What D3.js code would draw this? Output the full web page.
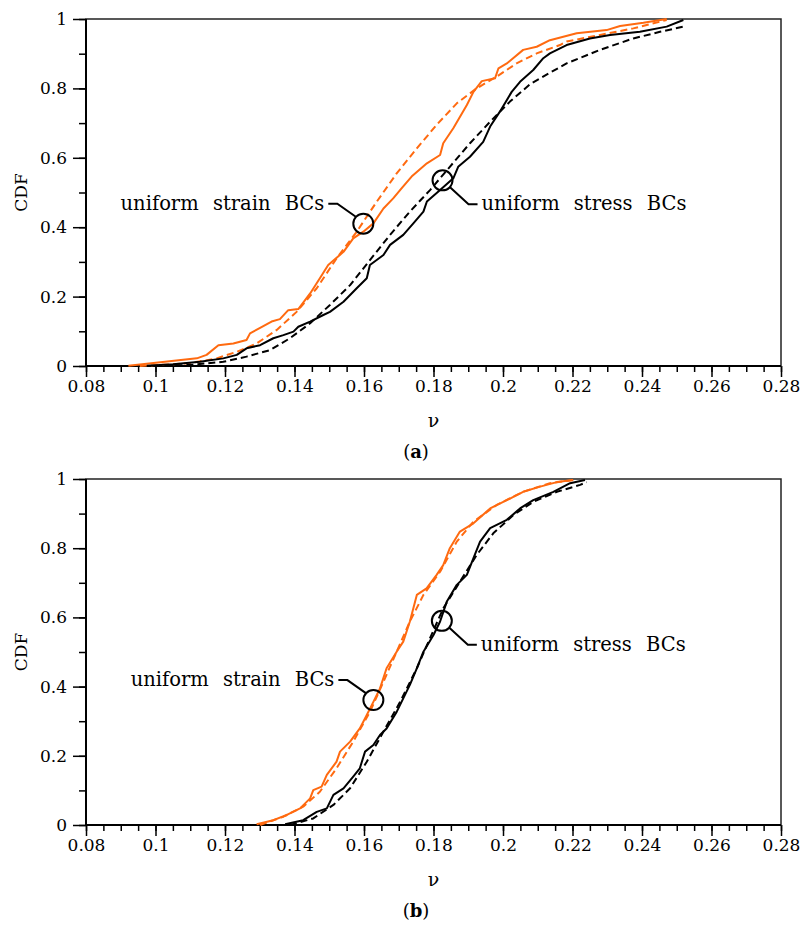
<!DOCTYPE html>
<html lang="en">
<head>
<meta charset="UTF-8">
<title>CDF of Poisson's ratio, uniform strain / stress BCs</title>
<script src="https://d3js.org/d3.v7.min.js"></script>
<style>
  body { margin: 0; background: #fff; }
  svg text { font-family: "DejaVu Serif", serif; fill: #000; }
</style>
</head>
<body>
<div id="chart"></div>
<script>

// tick labels
var xTicks = [0.08, 0.1, 0.12, 0.14, 0.16, 0.18, 0.2, 0.22, 0.24, 0.26, 0.28];
var yTicks = [0, 0.2, 0.4, 0.6, 0.8, 1];

// panel (a): [nu, CDF]
var strainEmpA = [[0.0922,0.001],[0.1119,0.022],[0.1147,0.032],[0.1181,0.060],[0.1224,0.065],[0.1262,0.075],
  [0.1272,0.094],[0.1301,0.110],[0.1334,0.128],[0.1358,0.135],[0.1382,0.161],[0.1411,0.164],[0.1445,0.209],
  [0.1473,0.253],[0.1497,0.291],[0.1541,0.329],[0.1569,0.368],[0.1598,0.387],[0.1627,0.411],[0.1656,0.454],
  [0.1684,0.483],[0.1708,0.512],[0.1737,0.546],[0.1781,0.584],[0.1819,0.608],[0.1828,0.642],[0.1857,0.685],
  [0.1896,0.752],[0.1915,0.790],[0.1939,0.821],[0.1977,0.829],[0.1987,0.858],[0.2011,0.872],[0.2058,0.911],
  [0.2097,0.920],[0.2135,0.939],[0.2212,0.959],[0.2298,0.968],[0.2337,0.980],[0.2404,0.989],[0.2471,1.0]];
var strainFitA = [[0.0955,0.0],[0.1099,0.008],[0.1176,0.022],[0.1234,0.041],[0.1291,0.065],[0.1349,0.104],
  [0.1406,0.156],[0.1464,0.224],[0.1521,0.310],[0.1579,0.387],[0.1637,0.474],[0.1694,0.555],[0.1752,0.627],
  [0.1809,0.695],[0.1867,0.757],[0.1924,0.800],[0.1982,0.834],[0.2039,0.872],[0.2097,0.901],[0.2164,0.925],
  [0.2183,0.935],[0.2279,0.954],[0.2375,0.973],[0.2471,0.997]];
var stressEmpA = [[0.0975,0.001],[0.1051,0.005],[0.1128,0.012],[0.1195,0.022],[0.1234,0.032],[0.1262,0.051],
  [0.1301,0.060],[0.1339,0.080],[0.1368,0.089],[0.1397,0.099],[0.1411,0.113],[0.1445,0.128],[0.1483,0.147],
  [0.1502,0.156],[0.1541,0.185],[0.1579,0.224],[0.1608,0.253],[0.1617,0.291],[0.1656,0.320],[0.1675,0.349],
  [0.1713,0.378],[0.1742,0.411],[0.1771,0.445],[0.1781,0.474],[0.1819,0.507],[0.1857,0.541],[0.1871,0.574],
  [0.1905,0.603],[0.1943,0.646],[0.1963,0.690],[0.1991,0.733],[0.2025,0.790],[0.2049,0.819],[0.2087,0.853],
  [0.2116,0.887],[0.2135,0.901],[0.2183,0.925],[0.2250,0.944],[0.2308,0.954],[0.2394,0.963],[0.2471,0.978],
  [0.2519,0.997]];
var stressFitA = [[0.0994,0.0],[0.1099,0.003],[0.1195,0.012],[0.1262,0.027],[0.1330,0.046],[0.1387,0.080],
  [0.1445,0.123],[0.1502,0.176],[0.1560,0.233],[0.1617,0.305],[0.1675,0.378],[0.1732,0.445],[0.1790,0.507],
  [0.1847,0.574],[0.1905,0.642],[0.1963,0.704],[0.2020,0.762],[0.2078,0.812],[0.2135,0.845],[0.2183,0.872],
  [0.2279,0.911],[0.2375,0.944],[0.2452,0.963],[0.2519,0.978]];

// panel (b)
var strainEmpB = [[0.1291,0.002],[0.1339,0.014],[0.1378,0.029],[0.1416,0.048],[0.1445,0.077],[0.1454,0.101],
  [0.1478,0.111],[0.1493,0.145],[0.1521,0.183],[0.1531,0.212],[0.1560,0.241],[0.1588,0.279],[0.1608,0.318],
  [0.1627,0.356],[0.1646,0.395],[0.1665,0.453],[0.1694,0.501],[0.1713,0.530],[0.1732,0.588],[0.1752,0.665],
  [0.1780,0.684],[0.1809,0.723],[0.1828,0.751],[0.1847,0.800],[0.1876,0.848],[0.1915,0.872],[0.1963,0.915],
  [0.2011,0.939],[0.2058,0.963],[0.2107,0.978],[0.2155,0.991],[0.2202,0.997]];
var strainFitB = [[0.1301,0.0],[0.1368,0.024],[0.1425,0.053],[0.1473,0.096],[0.1521,0.164],[0.1569,0.241],
  [0.1617,0.327],[0.1656,0.414],[0.1694,0.501],[0.1732,0.588],[0.1771,0.665],[0.1819,0.732],[0.1867,0.819],
  [0.1915,0.877],[0.1982,0.925],[0.2058,0.963],[0.2135,0.988],[0.2202,0.997]];
var stressEmpB = [[0.1373,0.002],[0.1425,0.014],[0.1464,0.038],[0.1493,0.048],[0.1512,0.087],[0.1541,0.106],
  [0.1569,0.140],[0.1588,0.164],[0.1603,0.212],[0.1627,0.231],[0.1646,0.260],[0.1665,0.279],[0.1694,0.327],
  [0.1713,0.366],[0.1732,0.405],[0.1752,0.453],[0.1771,0.501],[0.1800,0.549],[0.1819,0.588],[0.1838,0.645],
  [0.1867,0.694],[0.1896,0.723],[0.1915,0.771],[0.1934,0.819],[0.1963,0.858],[0.2011,0.882],[0.2049,0.915],
  [0.2087,0.939],[0.2145,0.963],[0.2193,0.988],[0.2236,0.997]];
var stressFitB = [[0.1387,0.0],[0.1454,0.019],[0.1512,0.058],[0.1560,0.106],[0.1608,0.183],[0.1656,0.270],
  [0.1704,0.356],[0.1752,0.453],[0.1790,0.540],[0.1828,0.626],[0.1876,0.703],[0.1924,0.780],[0.1972,0.843],
  [0.2030,0.896],[0.2087,0.934],[0.2155,0.963],[0.2222,0.983],[0.2241,0.991]];

var orange = "#ff6a10";

var svg = d3.select("#chart").append("svg")
  .attr("width", 804)
  .attr("height", 926);

function panel(top, bottom, series, ann, tag) {
  var left = 86, right = 781;
  var x = d3.scaleLinear().domain([0.08, 0.28]).range([left, right]);
  var y = d3.scaleLinear().domain([0, 1]).range([bottom, top]);
  var g = svg.append("g");

  var minorX = d3.range(0, 41).map(i => +(0.08 + i * 0.005).toFixed(3));
  var minorY = d3.range(0, 11).map(i => +(i * 0.1).toFixed(1));

  // minor ticks
  g.append("g").attr("transform", "translate(0," + bottom + ")")
    .call(d3.axisBottom(x).tickValues(minorX).tickSize(6).tickFormat(""))
    .call(a => a.select(".domain").remove())
    .selectAll("line").attr("stroke-width", 1.5);
  g.append("g").attr("transform", "translate(" + left + ",0)")
    .call(d3.axisLeft(y).tickValues(minorY).tickSize(7).tickFormat(""))
    .call(a => a.select(".domain").remove())
    .selectAll("line").attr("stroke-width", 1.5);

  // major ticks
  var xa = g.append("g").attr("transform", "translate(0," + bottom + ")")
    .call(d3.axisBottom(x).tickValues(xTicks).tickSize(11).tickPadding(3).tickFormat(d => String(+d.toFixed(2))))
    .call(a => a.select(".domain").remove());
  xa.selectAll("line").attr("stroke-width", 1.5);
  xa.selectAll("text").style("font-size", "17px").style("font-family", "DejaVu Serif");

  var ya = g.append("g").attr("transform", "translate(" + left + ",0)")
    .call(d3.axisLeft(y).tickValues(yTicks).tickSize(13).tickPadding(6).tickFormat(d => String(+d.toFixed(1))))
    .call(a => a.select(".domain").remove());
  ya.selectAll("line").attr("stroke-width", 1.5);
  ya.selectAll("text").style("font-size", "17px").style("font-family", "DejaVu Serif");

  // frame
  g.append("rect").attr("x", left).attr("y", top)
    .attr("width", right - left).attr("height", bottom - top)
    .attr("fill", "none").attr("stroke", "#222").attr("stroke-width", 1.5);
  g.append("path")
    .attr("d", "M" + left + "," + top + "V" + bottom + "H" + right)
    .attr("fill", "none").attr("stroke", "#000").attr("stroke-width", 2);

  var line = d3.line().x(d => x(d[0])).y(d => y(d[1]));
  series.forEach(s => {
    g.append("path").datum(s.data)
      .attr("d", line)
      .attr("fill", "none")
      .attr("stroke", s.color)
      .attr("stroke-width", 2)
      .attr("stroke-linejoin", "round")
      .attr("stroke-dasharray", s.dash ? "7,4" : null);
  });

  // annotations: circle on the curve, leader, label
  ann.forEach(a => {
    var cx = x(a.at[0]), cy = y(a.at[1]);
    g.append("circle").attr("cx", cx).attr("cy", cy).attr("r", 10)
      .attr("fill", "none").attr("stroke", "#000").attr("stroke-width", 2);
    var dir = a.side === "left" ? -1 : 1;
    var ky = cy + a.dy;
    var kx = cx + dir * 26;
    var hx = kx + dir * 9;
    g.append("path")
      .attr("d", "M" + (cx + dir * 7.5) + "," + (cy + (a.dy < 0 ? -7 : 7)) + "L" + kx + "," + ky + "H" + hx)
      .attr("fill", "none").attr("stroke", "#000").attr("stroke-width", 2);
    g.append("text")
      .attr("x", hx + dir * 4)
      .attr("y", ky + 6)
      .attr("text-anchor", a.side === "left" ? "end" : "start")
      .style("font-size", "19.5px")
      .style("word-spacing", "8px")
      .text(a.label);
  });

  // axis titles
  g.append("text")
    .attr("transform", "translate(27," + ((top + bottom) / 2) + ") rotate(-90)")
    .attr("text-anchor", "middle")
    .style("font-size", "17px")
    .text("CDF");
  g.append("text")
    .attr("x", (left + right) / 2).attr("y", bottom + 61)
    .attr("text-anchor", "middle")
    .style("font-size", "19px")
    .text("\u03bd");
  var t = g.append("text")
    .attr("x", 416).attr("y", bottom + 92)
    .attr("text-anchor", "middle")
    .style("font-size", "18px");
  t.append("tspan").text("(");
  t.append("tspan").style("font-weight", "bold").text(tag);
  t.append("tspan").text(")");
}

panel(19, 366, [
  {data: strainFitA, color: orange, dash: true},
  {data: strainEmpA, color: orange, dash: false},
  {data: stressFitA, color: "#000", dash: true},
  {data: stressEmpA, color: "#000", dash: false}
], [
  {at: [0.1598, 0.41], side: "left", dy: -20, label: "uniform strain BCs"},
  {at: [0.1826, 0.535], side: "right", dy: 24, label: "uniform stress BCs"}
], "a");

panel(479, 825, [
  {data: strainFitB, color: orange, dash: true},
  {data: strainEmpB, color: orange, dash: false},
  {data: stressFitB, color: "#000", dash: true},
  {data: stressEmpB, color: "#000", dash: false}
], [
  {at: [0.1627, 0.361], side: "left", dy: -20, label: "uniform strain BCs"},
  {at: [0.1824, 0.590], side: "right", dy: 24, label: "uniform stress BCs"}
], "b");

</script>
</body>
</html>
